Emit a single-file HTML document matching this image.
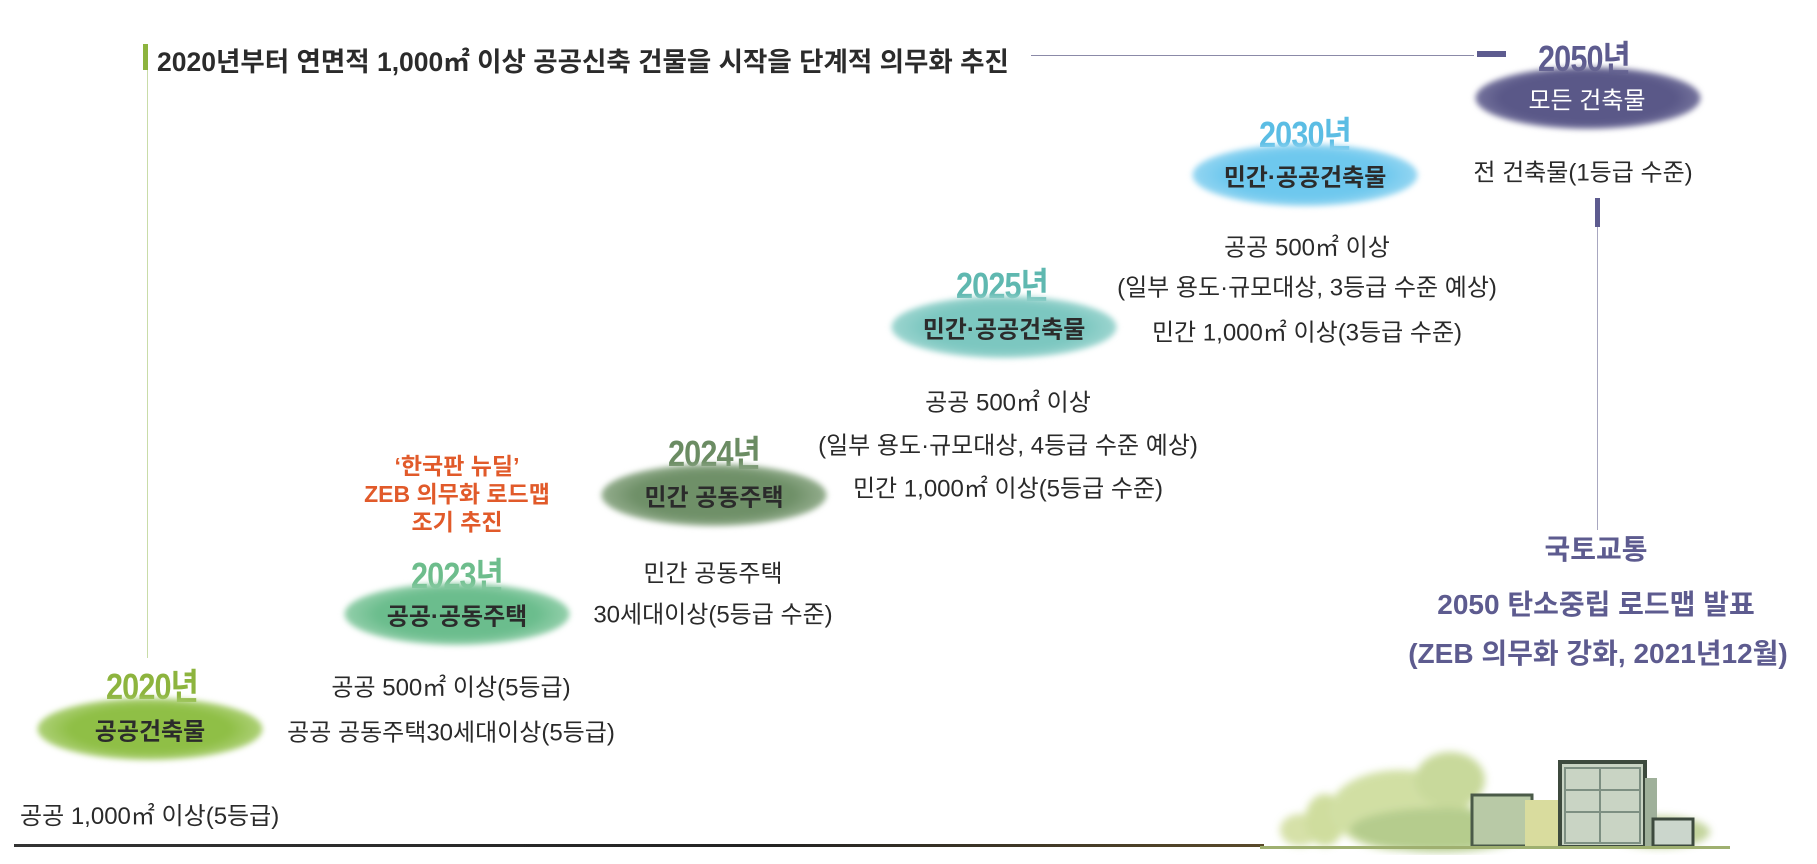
<!DOCTYPE html>
<html><head><meta charset="utf-8"><style>
html,body{margin:0;padding:0;background:#fff}
body{width:1817px;height:864px;position:relative;overflow:hidden;font-family:"Liberation Sans","Noto Sans CJK KR",sans-serif;color:#2a2a2a}
.c{position:absolute;transform:translate(-50%,-50%);white-space:nowrap}
.t{font-size:24px}
.y{font-family:"Liberation Sans Narrow","Liberation Sans","Noto Sans CJK KR",sans-serif;font-weight:bold;font-size:36px;letter-spacing:-1px;transform:translate(-50%,-50%) scaleX(0.85)}
.e{position:absolute;border-radius:50%;filter:blur(3px);transform:translate(-50%,-50%)}
.el{font-weight:bold;font-size:24px;color:#2b2b2b}
.r{color:#e15a2a;font-weight:bold;font-size:23px}
.p{color:#5d5b8f;font-weight:bold;font-size:28px}
</style></head><body>
<!-- header -->
<div style="position:absolute;left:143px;top:44px;width:5px;height:26px;background:#8db43e"></div>
<div style="position:absolute;left:147px;top:70px;width:1px;height:588px;background:#c9dca8"></div>
<div style="position:absolute;left:157px;top:40px;font-size:26.5px;font-weight:bold;color:#2b2b2b;white-space:nowrap">2020년부터 연면적 1,000㎡ 이상 공공신축 건물을 시작을 단계적 의무화 추진</div>
<div style="position:absolute;left:1031px;top:55px;width:443px;height:1px;background:#8b8aa8"></div>
<div style="position:absolute;left:1477px;top:51px;width:29px;height:6px;background:#5d5b8f"></div>
<!-- 2050 -->
<div class="c y" style="left:1584px;top:56px;color:#5d5b8f">2050년</div>
<div class="e" style="left:1588px;top:98px;width:225px;height:62px;background:radial-gradient(ellipse,#5a5888 55%,#8e8db0 85%,#d6d5e4 100%)"></div>
<div class="c el" style="left:1587px;top:98px;color:#fff;font-weight:normal;font-size:24px">모든 건축물</div>
<div class="c t" style="left:1583px;top:170px">전 건축물(1등급 수준)</div>
<div style="position:absolute;left:1595px;top:198px;width:5px;height:29px;background:#5d5b8f"></div>
<div style="position:absolute;left:1597px;top:227px;width:1px;height:303px;background:#a8a7c0"></div>
<div class="c p" style="left:1596px;top:548px">국토교통</div>
<div class="c p" style="left:1596px;top:603px">2050 탄소중립 로드맵 발표</div>
<div class="c p" style="left:1598px;top:652px">(ZEB 의무화 강화, 2021년12월)</div>
<!-- 2030 -->
<div class="c y" style="left:1305px;top:132px;color:#5bbde4">2030년</div>
<div class="e" style="left:1305px;top:175px;width:225px;height:62px;background:radial-gradient(ellipse,#6ec8ee 50%,#a6dcf3 80%,#e3f4fb 100%)"></div>
<div class="c el" style="left:1305px;top:175px">민간·공공건축물</div>
<div class="c t" style="left:1307px;top:245px">공공 500㎡ 이상</div>
<div class="c t" style="left:1307px;top:285px">(일부 용도·규모대상, 3등급 수준 예상)</div>
<div class="c t" style="left:1307px;top:330px">민간 1,000㎡ 이상(3등급 수준)</div>
<!-- 2025 -->
<div class="c y" style="left:1002px;top:283px;color:#5fb8b0">2025년</div>
<div class="e" style="left:1004px;top:327px;width:225px;height:62px;background:radial-gradient(ellipse,#7cc7c0 50%,#acdcd7 80%,#e6f4f3 100%)"></div>
<div class="c el" style="left:1004px;top:327px">민간·공공건축물</div>
<div class="c t" style="left:1008px;top:400px">공공 500㎡ 이상</div>
<div class="c t" style="left:1008px;top:443px">(일부 용도·규모대상, 4등급 수준 예상)</div>
<div class="c t" style="left:1008px;top:486px">민간 1,000㎡ 이상(5등급 수준)</div>
<!-- 2024 -->
<div class="c y" style="left:714px;top:451px;color:#6b8c63">2024년</div>
<div class="e" style="left:714px;top:495px;width:225px;height:62px;background:radial-gradient(ellipse,#6f9068 50%,#a5bb9f 80%,#e4ece2 100%)"></div>
<div class="c el" style="left:714px;top:495px">민간 공동주택</div>
<div class="c r" style="left:457px;top:464px">‘한국판 뉴딜’</div>
<div class="c r" style="left:457px;top:492px">ZEB 의무화 로드맵</div>
<div class="c r" style="left:457px;top:520px">조기 추진</div>
<div class="c t" style="left:713px;top:571px">민간 공동주택</div>
<div class="c t" style="left:713px;top:612px">30세대이상(5등급 수준)</div>
<!-- 2023 -->
<div class="c y" style="left:457px;top:573px;color:#6dbd8c">2023년</div>
<div class="e" style="left:457px;top:614px;width:225px;height:62px;background:radial-gradient(ellipse,#6bbd8d 50%,#a6d8b9 80%,#e5f4ea 100%)"></div>
<div class="c el" style="left:457px;top:614px">공공·공동주택</div>
<!-- 2020 -->
<div class="c y" style="left:152px;top:684px;color:#8db43e">2020년</div>
<div class="e" style="left:150px;top:729px;width:225px;height:62px;background:radial-gradient(ellipse,#8fbf46 50%,#bcd98f 80%,#eef6e0 100%)"></div>
<div class="c el" style="left:150px;top:729px">공공건축물</div>
<div class="c t" style="left:451px;top:685px">공공 500㎡ 이상(5등급)</div>
<div class="c t" style="left:451px;top:730px">공공 공동주택30세대이상(5등급)</div>
<div style="position:absolute;left:20px;top:796px;font-size:24px;white-space:nowrap">공공 1,000㎡ 이상(5등급)</div>
<!-- baseline -->
<div style="position:absolute;left:14px;top:844px;width:1250px;height:3px;background:linear-gradient(90deg,#333 0%,#222 60%,#5a4a2a 100%)"></div>
<!-- city -->
<svg style="position:absolute;left:1240px;top:720px" width="560" height="135" viewBox="0 0 560 135">
<defs><filter id="b"><feGaussianBlur stdDeviation="4"/></filter></defs>
<g filter="url(#b)" opacity="0.85">
<ellipse cx="60" cy="110" rx="20" ry="16" fill="#cfdc9a"/>
<ellipse cx="85" cy="100" rx="20" ry="26" fill="#c7d88e"/>
<ellipse cx="160" cy="90" rx="70" ry="40" fill="#c9da94"/>
<ellipse cx="210" cy="60" rx="35" ry="28" fill="#bfd38a"/>
<ellipse cx="200" cy="110" rx="90" ry="22" fill="#a9c47a"/>
<ellipse cx="420" cy="112" rx="50" ry="16" fill="#b9cd8c"/>
</g>
<g>
<rect x="232" y="75" width="60" height="51" fill="#b8c9a6" stroke="#4a5a48" stroke-width="3"/>
<rect x="285" y="80" width="35" height="46" fill="#d9dc9e"/>
<rect x="320" y="42" width="85" height="85" fill="#c9d4c4" stroke="#3d4a3e" stroke-width="4"/>
<rect x="325" y="48" width="75" height="75" fill="none" stroke="#7d8f82" stroke-width="2"/>
<line x1="325" y1="70" x2="400" y2="70" stroke="#7d8f82" stroke-width="2"/>
<line x1="325" y1="92" x2="400" y2="92" stroke="#7d8f82" stroke-width="2"/>
<line x1="360" y1="48" x2="360" y2="123" stroke="#7d8f82" stroke-width="2"/>
<rect x="405" y="58" width="12" height="68" fill="#9fb09a"/>
<rect x="413" y="99" width="40" height="27" fill="#cbd6cc" stroke="#3d4a3e" stroke-width="3"/>
</g>
<rect x="20" y="126" width="470" height="3" fill="#9fb070"/>
</svg>
</body></html>
